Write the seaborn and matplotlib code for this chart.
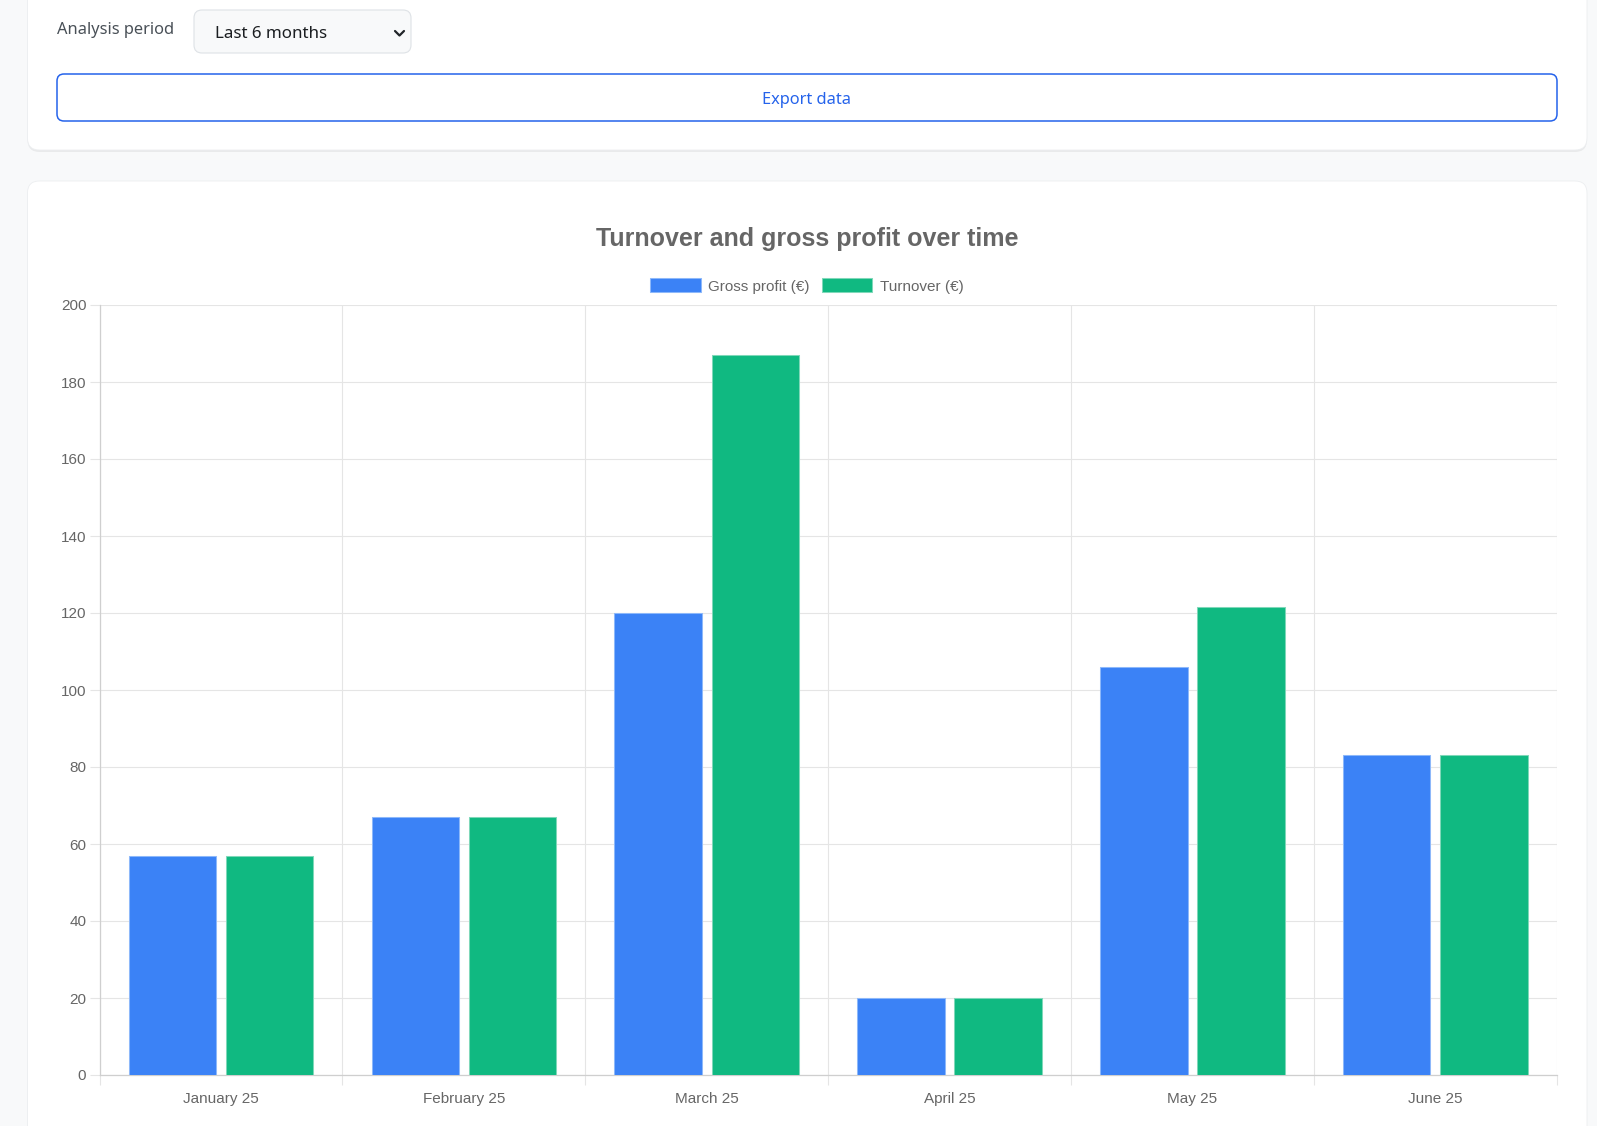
import numpy as np
import pandas as pd
import seaborn as sns
import matplotlib.pyplot as plt
from matplotlib.patches import FancyBboxPatch, Patch

# chart data
months = ["January 25", "February 25", "March 25", "April 25", "May 25", "June 25"]
series_names = ["Gross profit (€)", "Turnover (€)"]
gross_profit = [57, 67, 120, 20, 106, 83]
turnover = [57, 67, 187, 20, 121.5, 83]
y_ticks = [0, 20, 40, 60, 80, 100, 120, 140, 160, 180, 200]

BLUE, GREEN = "#3b82f6", "#10b981"
BLUE_EDGE, GREEN_EDGE = "#8db8fa", "#7fd8b9"
GRID = "#e5e5e5"
TXT = "#666666"

df = pd.DataFrame({
    "month": months * 2,
    "value": gross_profit + turnover,
    "series": [series_names[0]] * len(months) + [series_names[1]] * len(months),
})

sns.set_style("white")
plt.rcParams["font.family"] = ["Liberation Sans", "DejaVu Sans"]

W, H = 1597, 1126
fig = plt.figure(figsize=(W / 100, H / 100), dpi=100)
fig.patch.set_facecolor("#f8f9fa")

# page background / cards, in pixel coordinates
bg = fig.add_axes([0, 0, 1, 1], zorder=0)
bg.set_xlim(0, W)
bg.set_ylim(H, 0)
bg.axis("off")

def card(x0, y0, x1, y1, r=12):
    # soft shadow then white card
    sh = FancyBboxPatch((x0, y0 + 2), x1 - x0, y1 - y0, boxstyle=f"round,pad=0,rounding_size={r}",
                        fc="#000000", ec="none", alpha=0.06)
    bg.add_patch(sh)
    c = FancyBboxPatch((x0, y0), x1 - x0, y1 - y0, boxstyle=f"round,pad=0,rounding_size={r}",
                       fc="white", ec="#eceef0", lw=0.6)
    bg.add_patch(c)

card(27.5, -30, 1587, 150)
card(27.5, 181, 1587, H + 40)

# filter row
ui_font = ["Noto Sans", "DejaVu Sans"]
bg.text(57, 30, "Analysis period", fontsize=11.8, color="#495057", family=ui_font, va="center", ha="left")
sel = FancyBboxPatch((194, 10), 217, 43, boxstyle="round,pad=0,rounding_size=8",
                     fc="#f8f9fa", ec="#dee2e6", lw=0.8)
bg.add_patch(sel)
bg.text(215, 34.5, "Last 6 months", fontsize=12.2, color="#1b1e21", family=ui_font, va="center", ha="left")
bg.plot([395, 399.5, 404], [31, 35.5, 31], color="#212529", lw=1.6, solid_capstyle="round")

btn = FancyBboxPatch((57, 74), 1500, 47, boxstyle="round,pad=0,rounding_size=7",
                     fc="white", ec="#2563eb", lw=1.1)
bg.add_patch(btn)
bg.text(807, 100.5, "Export data", fontsize=11.8, color="#2563eb", family=ui_font, va="center", ha="center")

# chart
left, right, top, bottom = 99.5, 1556.7, 305, 1075
ax = fig.add_axes([left / W, 1 - bottom / H, (right - left) / W, (bottom - top) / H], zorder=2)
ax.set_facecolor("white")

sns.barplot(data=df, x="month", y="value", hue="series", palette=[BLUE, GREEN],
            width=0.8, gap=0.1, saturation=1, legend=False, ax=ax, zorder=3)
for cont, edge in zip(ax.containers, [BLUE_EDGE, GREEN_EDGE]):
    for bar in cont:
        bar.set_edgecolor(edge)
        bar.set_linewidth(0.75)

ax.set_xlim(-0.5, len(months) - 0.5)
ax.set_ylim(0, 200)
ax.set_yticks(y_ticks)
ax.set_xticks(np.arange(len(months)))
ax.set_xticklabels(months)
ax.set_xticks(np.arange(len(months) + 1) - 0.5, minor=True)
ax.set_xlabel("")
ax.set_ylabel("")

ax.grid(axis="y", color=GRID, lw=0.8, zorder=0)
ax.grid(axis="x", which="minor", color=GRID, lw=0.8, zorder=0)
ax.grid(axis="x", which="major", visible=False)
ax.set_axisbelow(True)

ax.tick_params(axis="y", length=7.5, width=0.8, color=GRID, pad=2, labelsize=11, labelcolor=TXT, left=True)
ax.tick_params(axis="x", which="major", length=0, pad=12, labelsize=11, labelcolor=TXT)
ax.tick_params(axis="x", which="minor", length=7.5, width=0.8, color=GRID, bottom=True)

for s in ["top", "right"]:
    ax.spines[s].set_visible(False)
for s in ["left", "bottom"]:
    ax.spines[s].set_color("#cfcfcf")
    ax.spines[s].set_linewidth(0.9)

handles = [Patch(fc=BLUE, ec=BLUE_EDGE, lw=0.75, label=series_names[0]),
           Patch(fc=GREEN, ec=GREEN_EDGE, lw=0.75, label=series_names[1])]
ax.legend(handles=handles, loc="center", bbox_to_anchor=(807 / W, 1 - 286 / H),
          bbox_transform=fig.transFigure, ncol=2, frameon=False, fontsize=11,
          labelcolor=TXT, handlelength=3.3, handleheight=1.0, handletextpad=0.5,
          columnspacing=0.8, borderpad=0)

fig.text(807 / W, 1 - 239 / H, "Turnover and gross profit over time", fontsize=18,
         fontweight="bold", color=TXT, ha="center", va="center")

fig.savefig("out.png", dpi=100, facecolor=fig.get_facecolor())
